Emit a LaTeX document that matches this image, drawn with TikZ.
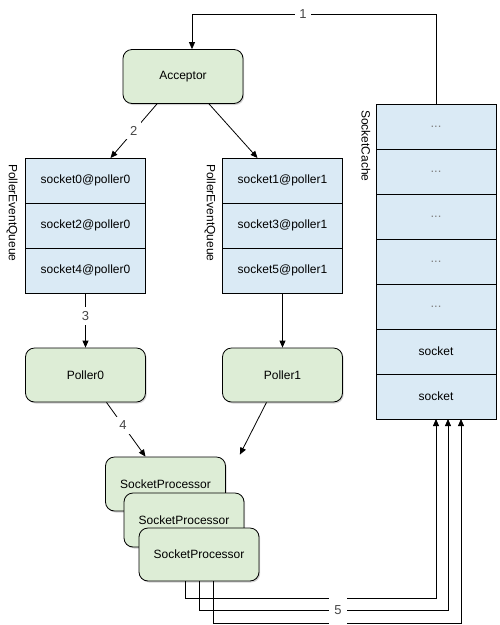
\documentclass[tikz,border=0pt]{standalone}
\usepackage{fontspec}
\setmainfont{Liberation Sans}
\usetikzlibrary{positioning, fit, calc, arrows.meta, shadows}

\definecolor{procgreen}{RGB}{221,237,214}
\definecolor{cellblue}{RGB}{218,234,245}
\definecolor{numgray}{RGB}{70,70,70}

\begin{document}
\begin{tikzpicture}[x=1pt, y=-1pt,
  every node/.style={font=\fontsize{12}{14}\selectfont},
  proc/.style={draw=black, line width=.8pt, fill=procgreen, rounded corners=9pt,
    minimum width=120pt, minimum height=54pt,
    drop shadow={shadow xshift=1.2pt, shadow yshift=-1.5pt, opacity=.35}},
  cell/.style={draw=black, line width=.8pt, fill=cellblue, minimum width=120pt,
    minimum height=45pt, outer sep=0pt},
  dotcell/.style={cell, text=gray, font=\fontsize{13}{15}\selectfont},
  side/.style={rotate=-90, anchor=west, inner sep=0pt},
  num/.style={fill=white, text=numgray, font=\fontsize{13}{15}\selectfont, inner sep=4pt},
  arr/.style={-{Triangle[length=7pt,width=6pt]}, line width=.8pt}]
  \useasboundingbox (0,0) rectangle (499,625);

  \node[proc] (acc) at (183,76.5) {Acceptor};

  % poller event queues
  \node[cell] (q0a) at (85.5,180.5) {socket0@poller0};
  \node[cell, below=0pt of q0a] (q0b) {socket2@poller0};
  \node[cell, below=0pt of q0b] (q0c) {socket4@poller0};
  \node[side] (q0 label) at (12,164) {PollerEventQueue};

  \node[cell] (q1a) at (282.5,180.5) {socket1@poller1};
  \node[cell, below=0pt of q1a] (q1b) {socket3@poller1};
  \node[cell, below=0pt of q1b] (q1c) {socket5@poller1};
  \node[side] (q1 label) at (210,164) {PollerEventQueue};

  % socket cache
  \node[dotcell] (c1) at (436,126.5) {...};
  \node[dotcell, below=0pt of c1] (c2) {...};
  \node[dotcell, below=0pt of c2] (c3) {...};
  \node[dotcell, below=0pt of c3] (c4) {...};
  \node[dotcell, below=0pt of c4] (c5) {...};
  \node[cell, below=0pt of c5] (c6) {socket};
  \node[cell, below=0pt of c6] (c7) {socket};
  \node[fit=(c1) (c7), inner sep=0pt, outer sep=0pt] (cache) {};
  \node[side] (cache label) at (366,110) {SocketCache};

  % pollers
  \node[proc] (p0) at (85.5,375) {Poller0};
  \node[proc] (p1) at (282.5,375) {Poller1};

  % socket processors
  \node[proc] (sp1) at (165.5,484) {SocketProcessor};
  \node[proc] (sp2) at (184,520) {SocketProcessor};
  \node[proc, minimum height=53pt] (sp3) at (199,554.5) {SocketProcessor};

  \draw[arr] (cache.north) -- ++(0,-90) -- node[num, pos=.545] (n1) {1} ++(-244,0)
    -- ([xshift=9pt]acc.north);
  \draw[arr] ([xshift=-26pt]acc.south) -- node[num] (n2) {2} ([xshift=25pt]q0a.north);
  \draw[arr] ([xshift=26pt]acc.south) -- ([xshift=-25pt]q1a.north);
  \draw[arr] (q0c.south) -- node[num, pos=.42] (n3) {3} (p0.north);
  \draw[arr] (q1c.south) -- (p1.north);
  \draw[arr] ([xshift=21pt]p0.south) -- node[num, pos=.42] (n4) {4} ([xshift=-20pt]sp1.north);
  \draw[arr] ([xshift=-16pt]p1.south) -- ([xshift=14pt, yshift=2pt]sp1.north east);

  \draw[arr] ([xshift=-14pt]sp3.south) -- ++(0,17) -| (cache.south);
  \draw[arr] (sp3.south) -- ++(0,29) -| ([xshift=12pt]cache.south);
  \draw[arr] ([xshift=14pt]sp3.south) -- ++(0,42) -| ([xshift=25pt]cache.south);
  \node[num, minimum height=29pt, minimum width=18pt] (n5) at (338,610) {5};
\end{tikzpicture}
\end{document}
